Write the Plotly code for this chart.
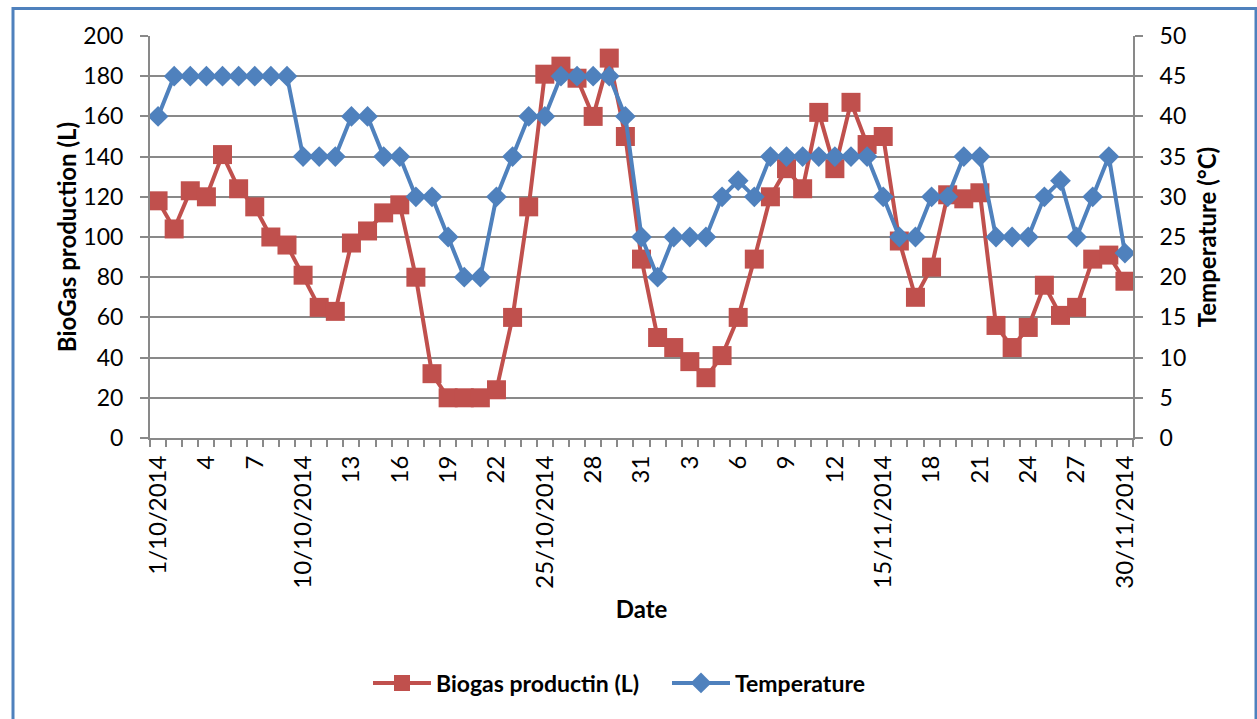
import plotly.graph_objects as go

dates = [f"{d}/10/2014" for d in range(1, 32)] + [f"{d}/11/2014" for d in range(1, 31)]
biogas = [118,104,123,120,141,124,115,100,96,81,65,63,97,103,112,116,80,32,20,20,
          20,24,60,115,181,185,179,160,189,150,89,50,45,38,30,41,60,89,120,134,
          124,162,134,167,146,150,98,70,85,121,119,122,56,45,55,76,61,65,89,91,78]
temperature = [40,45,45,45,45,45,45,45,45,35,35,35,40,40,35,35,30,30,25,20,
               20,30,35,40,40,45,45,45,45,40,25,20,25,25,25,30,32,30,35,35,
               35,35,35,35,35,30,25,25,30,30,35,35,25,25,25,30,32,25,30,35,23]
tick_idx = list(range(0, 61, 3))
tick_text = ["1/10/2014","4","7","10/10/2014","13","16","19","22","25/10/2014","28","31",
             "3","6","9","12","15/11/2014","18","21","24","27","30/11/2014"]

RED = "#C0504D"
BLUE = "#4F81BD"
GRID = "#898989"
FONT = "Lato"

x = list(range(len(dates)))

fig = go.Figure()
fig.add_trace(go.Scatter(
    x=x, y=biogas, name="Biogas productin (L)", mode="lines+markers",
    line=dict(color=RED, width=4),
    marker=dict(symbol="square", size=19, color=RED),
    customdata=dates, hovertemplate="%{customdata}: %{y}<extra></extra>",
))
fig.add_trace(go.Scatter(
    x=x, y=temperature, name="Temperature", mode="lines+markers", yaxis="y2",
    line=dict(color=BLUE, width=4),
    marker=dict(symbol="diamond", size=16, color=BLUE),
    customdata=dates, hovertemplate="%{customdata}: %{y}<extra></extra>",
))

L, R, T, B = 150, 124, 36, 281
W, H = 1257, 719
pw, ph = W - L - R, H - T - B

def px(xp):
    return (xp - L) / pw

def py(yp):
    return (H - B - yp) / ph

fig.update_layout(
    width=W, height=H,
    margin=dict(l=L, r=R, t=T, b=B, autoexpand=False),
    paper_bgcolor="white", plot_bgcolor="white",
    font=dict(family=FONT, size=23, color="black"),
    showlegend=True,
    legend=dict(orientation="h", x=px(368), xanchor="left", y=py(683), yanchor="middle",
                font=dict(family=FONT, size=23, color="black", weight="bold"),
                itemwidth=58, traceorder="normal", entrywidthmode="pixels", entrywidth=226),
    xaxis=dict(
        range=[-0.5, len(dates) - 0.5], tickmode="array", tickvals=tick_idx, ticktext=tick_text,
        tickangle=-90, ticks="", showgrid=False, zeroline=False,
        showline=True, linecolor=GRID, linewidth=2,
        minor=dict(tick0=-0.5, dtick=1, ticks="outside", ticklen=7, tickcolor=GRID, tickwidth=2, showgrid=False),
        tickfont=dict(size=24), automargin=False, ticklabelstandoff=6,
        title=dict(text="Date", font=dict(size=24, weight="bold"), standoff=14),
    ),
    yaxis=dict(
        range=[0, 200], dtick=20, tick0=0, showgrid=True, gridcolor=GRID, gridwidth=2,
        zeroline=False, showline=True, linecolor=GRID, linewidth=2,
        ticks="outside", ticklen=8, tickcolor=GRID, tickwidth=2,
        tickfont=dict(size=23), automargin=False, ticklabelstandoff=12,
        title=dict(text="BioGas production (L)", font=dict(size=24, weight="bold"), standoff=0),
    ),
    yaxis2=dict(
        range=[0, 50], dtick=5, tick0=0, overlaying="y", side="right", showgrid=False,
        zeroline=False, showline=True, linecolor=GRID, linewidth=2,
        ticks="outside", ticklen=8, tickcolor=GRID, tickwidth=2,
        tickfont=dict(size=23), automargin=False, ticklabelstandoff=12,
        title=dict(text="Temperature (°C)", font=dict(size=24, weight="bold"), standoff=14),
    ),
    shapes=[dict(type="rect", xref="paper", yref="paper",
                 x0=px(13), x1=px(1256), y0=py(730), y1=py(8.5),
                 line=dict(color=BLUE, width=3), fillcolor="rgba(0,0,0,0)", layer="below")],
)

fig.write_html("out.html")
